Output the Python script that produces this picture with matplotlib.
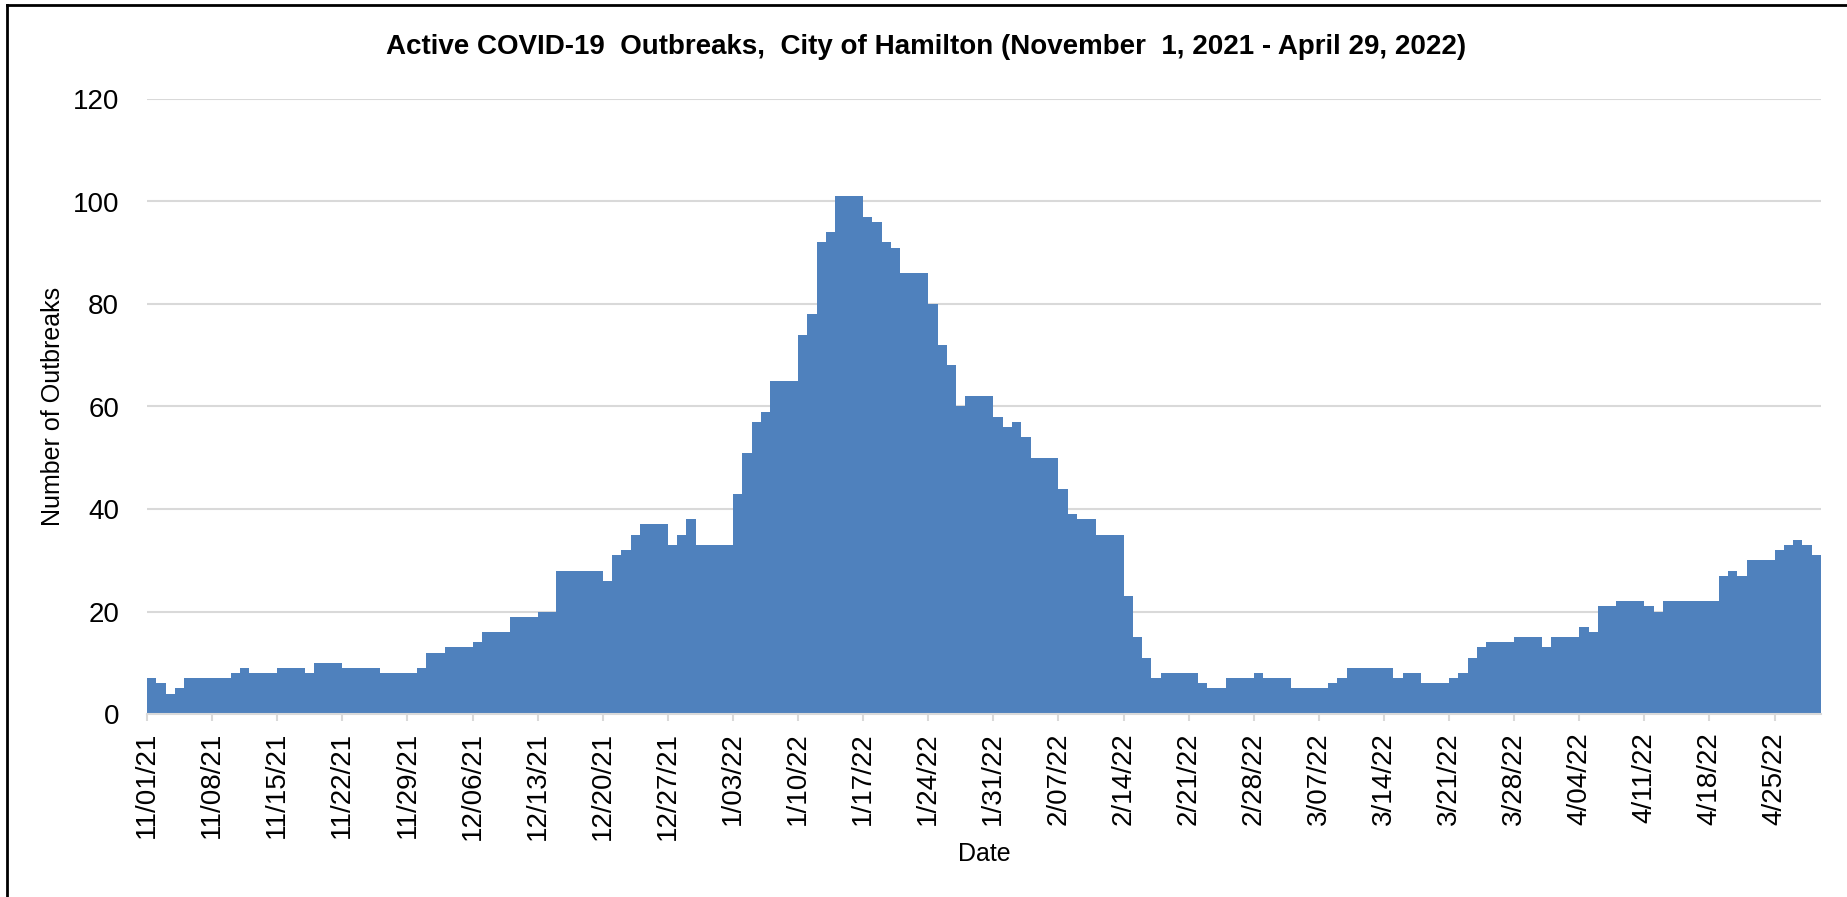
import datetime as dt
import matplotlib
matplotlib.use("Agg")
import matplotlib.pyplot as plt
from matplotlib.lines import Line2D

plt.rcParams['font.family'] = ['Liberation Sans Narrow', 'Liberation Sans', 'DejaVu Sans']

start = dt.date(2021, 11, 1)

# active outbreaks, one value per day
nov = [7, 6, 4, 5, 7, 7, 7, 7, 7, 8, 9, 8, 8, 8, 9, 9, 9, 8, 10, 10,
       10, 9, 9, 9, 9, 8, 8, 8, 8, 9]
dec = [12, 12, 13, 13, 13, 14, 16, 16, 16, 19, 19, 19, 20, 20, 28, 28, 28, 28, 28, 26,
       31, 32, 35, 37, 37, 37, 33, 35, 38, 33, 33]
jan = [33, 33, 43, 51, 57, 59, 65, 65, 65, 74, 78, 92, 94, 101, 101, 101, 97, 96, 92, 91,
       86, 86, 86, 80, 72, 68, 60, 62, 62, 62, 58]
feb = [56, 57, 54, 50, 50, 50, 44, 39, 38, 38, 35, 35, 35, 23, 15, 11, 7, 8, 8, 8,
       8, 6, 5, 5, 7, 7, 7, 8]
mar = [7, 7, 7, 5, 5, 5, 5, 6, 7, 9, 9, 9, 9, 9, 7, 8, 8, 6, 6, 6,
       7, 8, 11, 13, 14, 14, 14, 15, 15, 15, 13]
apr = [15, 15, 15, 17, 16, 21, 21, 22, 22, 22, 21, 20, 22, 22, 22, 22, 22, 22, 27, 28,
       27, 30, 30, 30, 32, 33, 34, 33, 31]

values = nov + dec + jan + feb + mar + apr
dates = [start + dt.timedelta(days=i) for i in range(len(values))]
days = list(range(len(values)))

tick_pos = days[::7]
tick_labels = [f"{d.month}/{d.day:02d}/{d.strftime('%y')}" for d in dates[::7]]

W, H = 1847, 897
fig = plt.figure(figsize=(W / 100, H / 100), dpi=100)
ax = fig.add_axes([147 / W, 1 - 714 / H, (1821 - 147) / W, (714 - 99) / H])

ax.bar(days, values, width=1.0, align='edge', color='#4F81BD', edgecolor='none', zorder=2)

ax.set_xlim(0, len(values))
ax.set_ylim(0, 120)
ax.set_yticks(range(0, 121, 20))
ax.grid(axis='y', color='#D9D9D9', linewidth=1.5, zorder=0)
ax.set_axisbelow(True)
for s in ['top', 'right', 'left']:
    ax.spines[s].set_visible(False)
ax.spines['bottom'].set_color('#D9D9D9')
ax.spines['bottom'].set_linewidth(1.5)

ax.set_xticks(tick_pos)
ax.set_xticklabels(tick_labels, rotation=90, fontsize=20)
ax.tick_params(axis='x', length=5, width=1.5, color='#D9D9D9', pad=8)
ax.tick_params(axis='y', length=0, pad=20, labelsize=20)

fig.text(0.5015, 1 - 47 / H,
         "Active COVID-19  Outbreaks,  City of Hamilton (November  1, 2021 - April 29, 2022)",
         ha='center', va='center', fontsize=20, fontweight='bold')
fig.text(53 / W, 1 - 406 / H, "Number of Outbreaks", rotation=90,
         ha='center', va='center', fontsize=18)
fig.text((147 + 1821) / 2 / W, 1 - 854 / H, "Date", ha='center', va='center', fontsize=18)

# frame of the original picture: only top and left edges are visible
fig.add_artist(Line2D([7 / W, 1], [1 - 5 / H, 1 - 5 / H], transform=fig.transFigure,
                      color='black', linewidth=2))
fig.add_artist(Line2D([7 / W, 7 / W], [0, 1 - 5 / H], transform=fig.transFigure,
                      color='black', linewidth=2))

fig.savefig("out.png", dpi=100)
